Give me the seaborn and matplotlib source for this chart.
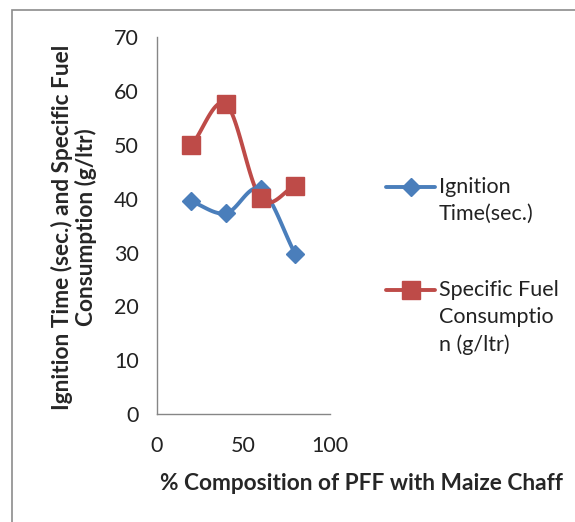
import numpy as np
import pandas as pd
import matplotlib
matplotlib.use("Agg")
import matplotlib.pyplot as plt
import seaborn as sns
from matplotlib.lines import Line2D
from matplotlib.patches import Rectangle

composition = [20, 40, 60, 80]
ignition_time = [39.5, 37.3, 41.8, 29.7]
fuel_consumption = [49.9, 57.6, 40.1, 42.4]
series_names = ["Ignition\nTime(sec.)", "Specific Fuel\nConsumptio\nn (g/ltr)"]
x_ticks = [0, 50, 100]
y_ticks = [0, 10, 20, 30, 40, 50, 60, 70]

sns.set_style("white")
plt.rcParams["font.family"] = ["Lato", "DejaVu Sans"]

BLUE = "#4A7EBB"
RED = "#BE4B48"


def smooth(xs, ys, n=40):
    # Catmull-Rom style smoothing similar to Excel's smoothed line
    xs = np.asarray(xs, float)
    ys = np.asarray(ys, float)
    px = np.concatenate([[2 * xs[0] - xs[1]], xs, [2 * xs[-1] - xs[-2]]])
    py = np.concatenate([[2 * ys[0] - ys[1]], ys, [2 * ys[-1] - ys[-2]]])
    out_x, out_y = [], []
    t = np.linspace(0, 1, n)
    for i in range(1, len(px) - 2):
        for arr, out in ((px, out_x), (py, out_y)):
            p0, p1, p2, p3 = arr[i - 1], arr[i], arr[i + 1], arr[i + 2]
            m1 = (p2 - p0) / 2.0
            m2 = (p3 - p1) / 2.0
            h00 = 2 * t**3 - 3 * t**2 + 1
            h10 = t**3 - 2 * t**2 + t
            h01 = -2 * t**3 + 3 * t**2
            h11 = t**3 - t**2
            out.extend(h00 * p1 + h10 * m1 + h01 * p2 + h11 * m2)
    return np.array(out_x), np.array(out_y)


fig = plt.figure(figsize=(5.75, 5.22), dpi=100)
ax = fig.add_axes([156.7 / 575, 1 - 414 / 522, (330 - 156.7) / 575, (414 - 37.3) / 522])

for ys, color, marker, ms in ((ignition_time, BLUE, "D", 9), (fuel_consumption, RED, "s", 13)):
    sx, sy = smooth(composition, ys)
    curve = pd.DataFrame({"x": sx, "y": sy, "order": np.arange(len(sx))})
    sns.lineplot(data=curve, x="x", y="y", sort=False, estimator=None, ax=ax,
                 color=color, linewidth=2.8, solid_capstyle="round")
    ax.plot(composition, ys, linestyle="none", marker=marker, markersize=ms,
            color=color, markeredgecolor=color, zorder=5, clip_on=False)

ax.set_xlim(0, 100)
ax.set_ylim(0, 70)
ax.set_xticks(x_ticks)
ax.set_yticks(y_ticks)
ax.set_xlabel("")
ax.set_ylabel("")
for s in ["top", "right"]:
    ax.spines[s].set_visible(False)
for s in ["left", "bottom"]:
    ax.spines[s].set_color("#868686")
    ax.spines[s].set_linewidth(1.0)
ax.tick_params(axis="both", which="major", direction="out", length=8, width=1,
               color="#868686", labelsize=15.5, labelcolor="#222222")
ax.tick_params(axis="x", pad=8)
ax.tick_params(axis="y", pad=5)

fig.text(74 / 575, 1 - 227 / 522,
         "Ignition Time (sec.) and Specific Fuel\nConsumption (g/ltr)",
         rotation=90, ha="center", va="center", fontsize=16.3, fontweight="bold",
         linespacing=1.15)
fig.text(361 / 575, 1 - 484 / 522, "% Composition of PFF with Maize Chaff",
         ha="center", va="center", fontsize=16.3, fontweight="bold")

# legend
leg = [(BLUE, "D", 9, 187, series_names[0]), (RED, "s", 13, 290, series_names[1])]
for color, marker, ms, ypx, label in leg:
    yf = 1 - ypx / 522
    fig.add_artist(Line2D([386 / 575, 435 / 575], [yf, yf], color=color, linewidth=2.8,
                          transform=fig.transFigure))
    fig.add_artist(Line2D([410.5 / 575], [yf], color=color, marker=marker, markersize=ms,
                          linestyle="none", transform=fig.transFigure))
    fig.text(439 / 575, yf + 10 / 522, label, ha="left", va="top", fontsize=15.5,
             color="#222222", linespacing=1.45)

fig.add_artist(Rectangle((12 / 575, -0.05), 1.2, 1 - 10 / 522 + 0.05,
                         transform=fig.transFigure, fill=False,
                         edgecolor="#8c8c8c", linewidth=1.2))

fig.savefig("out.png", dpi=100)
